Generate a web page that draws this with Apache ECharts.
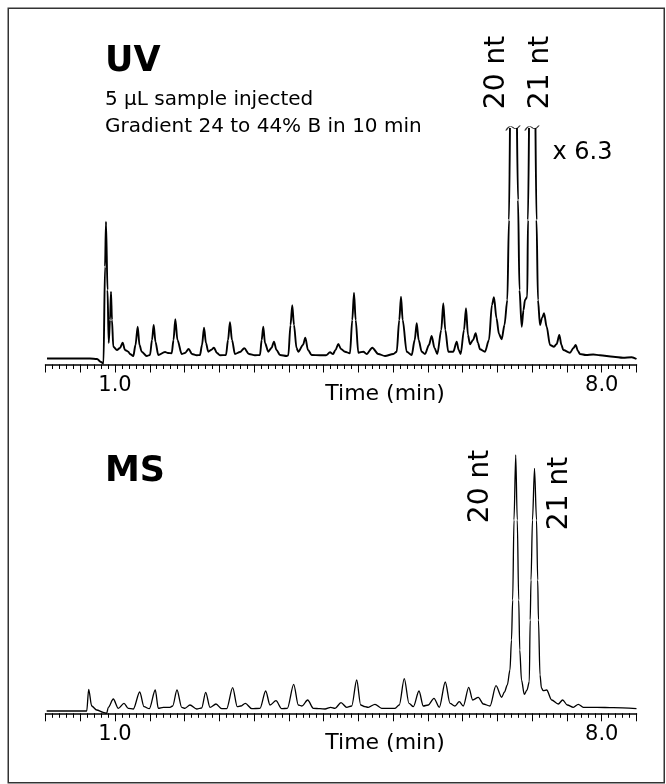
<!DOCTYPE html>
<html>
<head>
<meta charset="utf-8">
<script src="https://cdn.jsdelivr.net/npm/echarts@6.0.0/dist/echarts.min.js"></script>
<style>
html,body{margin:0;padding:0;background:#fff;}
#chart{width:666px;height:784px;}
</style>
</head>
<body>
<div id="chart"></div>
<script>
// ---- data (time in min, signal in arbitrary units) ----
const tickLabels = [1.0, 8.0];
const axisName = 'Time (min)';
const panelTitles = ['UV', 'MS'];
const uvNotes = ['5 µL sample injected', 'Gradient 24 to 44% B in 10 min'];
const peakNames = ['20 nt', '21 nt'];
const scaleNote = 'x 6.3';

const uvTime = [0.022,0.640,0.741,0.798,0.834,0.856,0.870,0.892,0.909,0.928,
0.942,0.956,0.975,1.028,1.071,1.110,1.143,1.191,1.215,1.263,
1.294,1.326,1.352,1.384,1.455,1.503,1.532,1.556,1.582,1.622,
1.719,1.762,1.815,1.841,1.867,1.898,1.959,2.006,2.059,2.107,
2.175,2.222,2.251,2.280,2.308,2.341,2.380,2.423,2.466,2.510,
2.596,2.625,2.653,2.682,2.725,2.797,2.859,2.927,3.013,3.085,
3.109,3.132,3.157,3.204,3.250,3.286,3.322,3.373,3.469,3.492,
3.524,3.549,3.574,3.610,3.636,3.703,3.737,3.775,3.828,3.948,
4.034,4.092,4.135,4.171,4.211,4.250,4.307,4.379,4.412,4.437,
4.461,4.499,4.571,4.620,4.700,4.786,4.883,5.002,5.051,5.088,
5.113,5.137,5.195,5.267,5.310,5.339,5.367,5.411,5.458,5.515,
5.554,5.595,5.635,5.692,5.721,5.750,5.793,5.865,5.914,5.943,
5.971,6.019,6.048,6.076,6.105,6.148,6.187,6.220,6.249,6.321,
6.378,6.421,6.450,6.486,6.522,6.561,6.601,6.642,6.666,6.680,
6.730,6.781,6.796,6.817,6.849,6.875,6.896,6.929,6.939,6.954,
7.000,7.047,7.062,7.083,7.112,7.141,7.170,7.208,7.256,7.313,
7.352,7.390,7.421,7.447,7.543,7.594,7.625,7.658,7.687,7.773,
7.878,7.975,8.166,8.306,8.431,8.500];

const uvSignal = [6.0,6.0,5.5,2.5,1.0,97.8,142.8,74.5,21.5,44.5,
72.8,44.5,17.8,14.5,16.5,21.8,14.5,12.8,10.5,8.5,
19.5,37.8,19.5,12.8,8.5,9.5,24.5,39.5,22.5,9.5,
12.5,11.5,11.2,24.5,45.2,24.5,10.5,11.5,15.5,10.5,
9.2,9.5,19.5,36.8,21.5,12.8,14.5,16.8,11.5,9.2,
9.5,24.5,42.2,24.5,10.5,12.5,16.2,10.5,9.2,9.5,
24.5,37.8,21.5,12.8,16.5,22.8,14.5,9.5,8.5,9.2,
39.5,59.2,39.5,16.5,12.8,19.5,26.8,14.5,9.5,9.2,
9.2,12.2,10.5,14.5,20.5,15.5,12.8,11.2,44.5,71.8,
44.5,11.8,12.8,10.5,16.8,10.5,8.5,10.5,12.8,44.5,
67.8,44.5,12.8,9.5,24.5,41.2,24.5,12.8,10.5,19.5,
28.5,16.5,10.5,34.5,61.2,34.5,12.8,12.8,22.8,14.5,
10.5,34.5,56.2,29.5,20.2,24.5,31.2,21.5,15.2,12.8,
24.5,59.5,67.2,46.5,30.5,25.2,39.5,64.5,144.5,236.5,
null,236.5,164.5,74.5,37.8,54.5,64.5,67.8,144.5,236.5,
null,236.5,144.5,64.5,39.5,46.5,51.2,37.8,19.5,17.8,
20.5,29.5,19.5,14.5,11.8,16.5,19.5,13.5,10.5,9.5,
10.0,9.2,7.8,6.8,7.2,5.5];

// off-scale (truncated) UV peaks: apex times and truncation level
const uvCutTime = [6.724, 6.997];
const uvCutLevel = 236.5;

const msTime = [0.017,0.544,0.593,0.621,0.664,0.736,0.831,0.880,0.903,0.975,
1.047,1.129,1.191,1.263,1.355,1.417,1.493,1.579,1.622,1.694,
1.791,1.829,1.891,1.959,2.006,2.078,2.175,2.246,2.304,2.366,
2.452,2.534,2.606,2.692,2.758,2.807,2.874,2.966,3.085,3.167,
3.229,3.315,3.397,3.478,3.570,3.636,3.689,3.771,3.852,3.948,
4.020,4.102,4.164,4.250,4.332,4.404,4.476,4.533,4.595,4.642,
4.739,4.835,5.027,5.088,5.160,5.228,5.290,5.372,5.433,5.505,
5.587,5.664,5.750,5.818,5.889,5.951,6.009,6.087,6.144,6.225,
6.296,6.393,6.479,6.561,6.601,6.642,6.680,6.702,6.719,6.738,
6.763,6.785,6.806,6.821,6.846,6.886,6.925,6.958,6.971,6.983,
7.004,7.033,7.062,7.079,7.090,7.112,7.133,7.159,7.208,7.280,
7.375,7.438,7.505,7.591,7.663,7.735,7.927,8.166,8.500];

const msSignal = [2.3,2.3,2.3,24.0,7.3,3.3,1.0,0.0,6.0,14.3,
5.0,10.0,5.0,4.3,21.3,6.6,4.6,23.3,5.0,6.0,
6.0,7.3,23.3,6.0,5.0,8.3,4.3,5.3,21.0,6.0,
9.3,4.6,4.6,25.6,6.6,7.3,10.0,4.6,5.0,22.3,
8.3,12.6,4.6,5.0,29.0,8.3,7.3,13.3,5.0,4.6,
4.3,6.0,5.0,10.6,6.0,7.3,33.3,8.3,6.6,6.0,
9.0,5.0,5.0,8.3,34.6,10.0,6.6,22.3,7.3,8.3,
15.0,6.0,31.3,10.0,7.3,11.6,7.3,26.0,13.3,16.0,
9.3,7.3,27.6,16.0,21.3,28.3,43.3,73.3,113.3,193.3,
258.3,193.3,113.3,63.3,33.3,19.0,23.3,31.6,93.3,133.3,
193.3,245.0,193.3,133.3,93.3,38.3,25.3,22.6,23.3,13.3,
9.3,13.3,8.3,6.0,9.0,6.0,6.0,5.6,4.6];

// ---- chart ----
const FONT = '"DejaVu Sans", Verdana, sans-serif';
const uvData = uvTime.map((t, i) => [t, uvSignal[i] === null ? '-' : uvSignal[i]]);
const msData = msTime.map((t, i) => [t, msSignal[i]]);
const cutData = uvCutTime.map(t => [t, uvCutLevel]);

function timeAxis(gridIndex) {
  return {
    type: 'value', gridIndex: gridIndex, min: 0, max: 8.5, interval: 0.5,
    name: axisName, nameLocation: 'middle', nameGap: 19, nameMoveOverlap: false,
    nameTextStyle: { fontFamily: FONT, fontSize: 22, color: '#000', padding: [0, 0, 0, 88] },
    axisLine: { show: true, onZero: false, lineStyle: { color: '#000', width: 1.5 } },
    axisTick: { show: true, length: 8, lineStyle: { color: '#000', width: 1 } },
    minorTick: { show: true, splitNumber: 5, length: 4.5, lineStyle: { color: '#000', width: 1 } },
    splitLine: { show: false }, minorSplitLine: { show: false },
    axisLabel: {
      margin: 11, fontFamily: FONT, fontSize: 21, color: '#000',
      formatter: v => tickLabels.some(l => Math.abs(l - v) < 1e-6) ? v.toFixed(1) : ''
    }
  };
}
function sigAxis(gridIndex) {
  return { type: 'value', gridIndex: gridIndex, min: 0, max: 300, show: false, splitLine: { show: false } };
}
function txt(x, y, text, font, opts) {
  return Object.assign({
    type: 'text', x: x, y: y, silent: true,
    style: Object.assign({ text: text, font: font, fill: '#000', align: 'left', verticalAlign: 'middle' }, (opts && opts.style) || {})
  }, (opts && opts.el) || {});
}

const chart = echarts.init(document.getElementById('chart'), null, { renderer: 'canvas' });
chart.setOption({
  backgroundColor: '#fff',
  animation: false,
  grid: [
    { left: 45.5, right: 29.5, top: 64.5, bottom: 419.5, containLabel: false, outerBoundsMode: 'none' },
    { left: 45.5, right: 29.5, top: 413.3, bottom: 70.7, containLabel: false, outerBoundsMode: 'none' }
  ],
  xAxis: [timeAxis(0), timeAxis(1)],
  yAxis: [sigAxis(0), sigAxis(1)],
  series: [
    { type: 'line', xAxisIndex: 0, yAxisIndex: 0, data: uvData, showSymbol: false, connectNulls: false,
      smooth: 0.3, smoothMonotone: 'x',
      lineStyle: { color: '#000', width: 1.9 }, silent: true, z: 3 },
    { type: 'scatter', xAxisIndex: 0, yAxisIndex: 0, data: cutData,
      symbol: 'path://M0,5 Q3,-1 7,2 Q10,5 14,0', symbolSize: [14, 5],
      itemStyle: { color: 'none', borderColor: '#000', borderWidth: 1 }, silent: true, z: 4 },
    { type: 'line', xAxisIndex: 1, yAxisIndex: 1, data: msData, showSymbol: false,
      smooth: 0.3, smoothMonotone: 'x',
      lineStyle: { color: '#000', width: 1.3 }, silent: true, z: 3 }
  ],
  graphic: [
    { type: 'rect', silent: true, shape: { x: 8.25, y: 8.25, width: 656, height: 774.5 },
      style: { fill: 'none', stroke: '#333', lineWidth: 1.5 } },
    txt(105, 61.8, panelTitles[0], 'bold 35px ' + FONT),
    txt(105, 100.2, uvNotes[0], '20px ' + FONT),
    txt(105, 126.8, uvNotes[1], '20px ' + FONT),
    txt(552.5, 152.5, scaleNote, '24px ' + FONT),
    txt(496.8, 72.5, peakNames[0], '28px ' + FONT, { style: { align: 'center' }, el: { rotation: Math.PI / 2 } }),
    txt(540.8, 72.5, peakNames[1], '28px ' + FONT, { style: { align: 'center' }, el: { rotation: Math.PI / 2 } }),
    txt(105, 471.8, panelTitles[1], 'bold 35px ' + FONT),
    txt(480.3, 486.5, peakNames[0], '28px ' + FONT, { style: { align: 'center' }, el: { rotation: Math.PI / 2 } }),
    txt(559.8, 493.5, peakNames[1], '28px ' + FONT, { style: { align: 'center' }, el: { rotation: Math.PI / 2 } })
  ]
});
</script>
</body>
</html>
